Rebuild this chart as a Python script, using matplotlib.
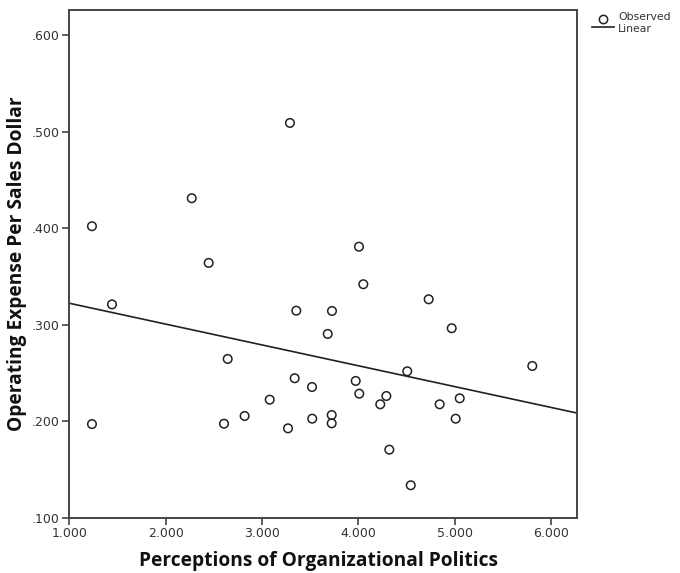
import numpy as np
import matplotlib.pyplot as plt
from matplotlib.ticker import FuncFormatter
from matplotlib.lines import Line2D

# values
politics = [1.235, 1.235, 1.443, 2.270, 2.446, 3.289, 2.643, 2.605, 2.819, 3.079,
            3.269, 3.338, 3.355, 3.518, 3.520, 3.681, 3.725, 3.722, 3.722, 4.005,
            4.050, 3.971, 4.008, 4.226, 4.289, 4.320, 4.506, 4.542, 4.728, 4.842,
            4.967, 5.008, 5.050, 5.803]
expense = [0.402, 0.197, 0.321, 0.431, 0.364, 0.509, 0.2645, 0.1974, 0.2054, 0.2223,
           0.1926, 0.2445, 0.3145, 0.2354, 0.2026, 0.2904, 0.3142, 0.2064, 0.1978, 0.3808,
           0.3419, 0.2417, 0.2285, 0.2175, 0.2261, 0.1705, 0.2517, 0.1336, 0.3263, 0.2175,
           0.2963, 0.2026, 0.2237, 0.2572]
# linear fit
fit_intercept = 0.3438
fit_slope = -0.0216

xlim = (1.0, 6.263)
ylim = (0.1, 0.626)

fig = plt.figure(figsize=(6.8, 5.73), dpi=100)
ax = fig.add_axes([0.1019, 0.0965, 0.7461, 0.886])

ax.scatter(politics, expense, s=38, facecolors='none', edgecolors='#222222',
           linewidths=1.1, zorder=3)
xs = np.array(xlim)
ax.plot(xs, fit_intercept + fit_slope * xs, color='#222222', linewidth=1.2, zorder=2)

ax.set_xlim(*xlim)
ax.set_ylim(*ylim)
ax.set_xticks([1, 2, 3, 4, 5, 6])
ax.set_yticks([0.1, 0.2, 0.3, 0.4, 0.5, 0.6])
ax.xaxis.set_major_formatter(FuncFormatter(lambda v, p: f"{v:.3f}"))
ax.yaxis.set_major_formatter(FuncFormatter(lambda v, p: f"{v:.3f}".lstrip('0')))
ax.tick_params(direction='out', length=5, width=1.2, color='#444444',
               labelsize=9, labelcolor='#333333', pad=2)
for s in ax.spines.values():
    s.set_color('#444444')
    s.set_linewidth(1.4)

lab = dict(family='Open Sans', fontweight='bold', fontsize=13.8, color='#111111')
fig.text(318.5 / 680, 1 - 561 / 573, 'Perceptions of Organizational Politics',
         ha='center', va='center', **lab)
fig.text(17 / 680, 1 - 264 / 573, 'Operating Expense Per Sales Dollar',
         ha='center', va='center', rotation=90, **lab)

# legend outside the plot, top right
fig.add_artist(Line2D([603 / 680], [1 - 18.7 / 573], marker='o', markersize=6,
                      markerfacecolor='none', markeredgecolor='#222222',
                      markeredgewidth=1.1, linestyle='none'))
fig.add_artist(Line2D([591.7 / 680, 614 / 680], [1 - 27 / 573] * 2,
                      color='#222222', linewidth=1.2))
fig.text(618 / 680, 1 - 17.5 / 573, 'Observed', fontsize=7.8, color='#333333',
         va='center', ha='left')
fig.text(618 / 680, 1 - 28.5 / 573, 'Linear', fontsize=7.8, color='#333333',
         va='center', ha='left')

fig.savefig('out.png', dpi=100)
